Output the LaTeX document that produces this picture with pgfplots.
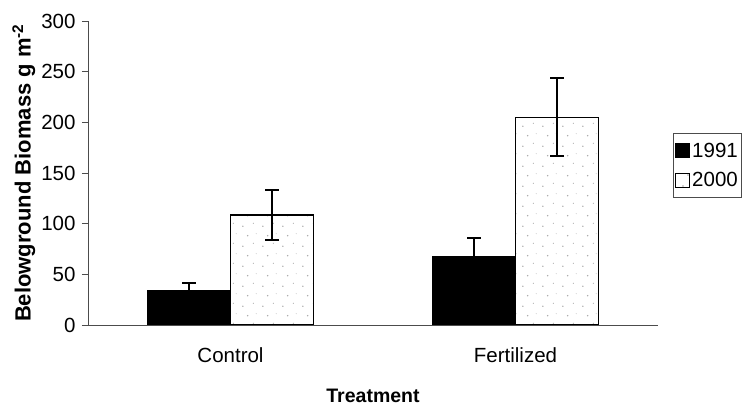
\documentclass[border=0pt]{standalone}
\usepackage{fontspec}
\setmainfont{Liberation Sans}
\usepackage{pgfplots}
\pgfplotsset{compat=1.18}
\usetikzlibrary{patterns.meta}
\tikzdeclarepattern{
  name=sparsedots,
  type=uncolored,
  bounding box={(0pt,0pt) and (20pt,20pt)},
  tile size={(20pt,20pt)},
  code={
    \fill (3pt,4pt) circle (0.8pt);
    \fill (14pt,7pt) circle (0.6pt);
    \fill (8pt,15pt) circle (0.8pt);
    \fill (17pt,17pt) circle (0.5pt);
  }
}
\begin{document}
\begin{tikzpicture}
\begin{axis}[
  name=ax,
  scale only axis,
  width=570pt, height=304pt,
  xmin=0.5, xmax=2.5,
  ymin=0, ymax=300,
  ytick={0,50,100,150,200,250,300},
  xtick={1,2},
  xticklabels={Control,Fertilized},
  major x tick style={draw=none},
  extra x ticks={1.5,2.5},
  extra x tick labels={},
  extra x tick style={major tick length=7pt, tick style={draw=black!70, line width=0.8pt}},
  tick align=outside,
  major tick length=6pt,
  tick style={black!70, line width=0.8pt},
  axis x line*=bottom,
  axis y line*=left,
  axis line style={black!70, line width=0.9pt},
  ybar=0pt,
  bar width=83pt,
  ticklabel style={font=\fontsize{20.5}{22}\selectfont},
  /pgf/number format/assume math mode=true,
  xticklabel style={yshift=-13pt},
  yticklabel style={xshift=-3pt},
  xlabel={\textbf{Treatment}},
  ylabel={\textbf{Belowground Biomass g m\textsuperscript{-2}}},
  xlabel style={font=\fontsize{19.5}{22}\selectfont, yshift=-7pt},
  ylabel style={font=\fontsize{22}{24}\selectfont, yshift=-1pt},
  legend style={at={(1.026,0.63)}, anchor=north west, draw=black!70, line width=0.8pt,
    font=\fontsize{20.5}{22}\selectfont, inner xsep=2pt, inner ysep=7pt, row sep=10pt},
  legend cell align=left,
  legend image code/.code={\draw[#1, line width=1pt] (0pt,-7pt) rectangle (14pt,7pt);},
]
\addplot+[fill=black, draw=black, line width=1pt,
  error bars/.cd, y dir=plus, y explicit,
  error bar style={line width=2pt, black},
  error mark options={rotate=90, mark size=7pt, line width=2pt, black}]
  coordinates {(1,34.5) +- (0,7) (2,68) +- (0,17.5)};
\addlegendentry{1991}
\addplot+[fill=white, draw=black, line width=1.5pt, postaction={pattern=sparsedots, pattern color=black!35},
  error bars/.cd, y dir=both, y explicit,
  error bar style={line width=2pt, black},
  error mark options={rotate=90, mark size=7pt, line width=2pt, black}]
  coordinates {(1,108.5) +- (0,25) (2,205) +- (0,38.5)};
\addlegendentry{2000}
\end{axis}
\pgfresetboundingbox
\path[use as bounding box] ([xshift=-88pt,yshift=-85pt]ax.south west) rectangle ([xshift=85pt,yshift=21pt]ax.north east);
\end{tikzpicture}
\end{document}
